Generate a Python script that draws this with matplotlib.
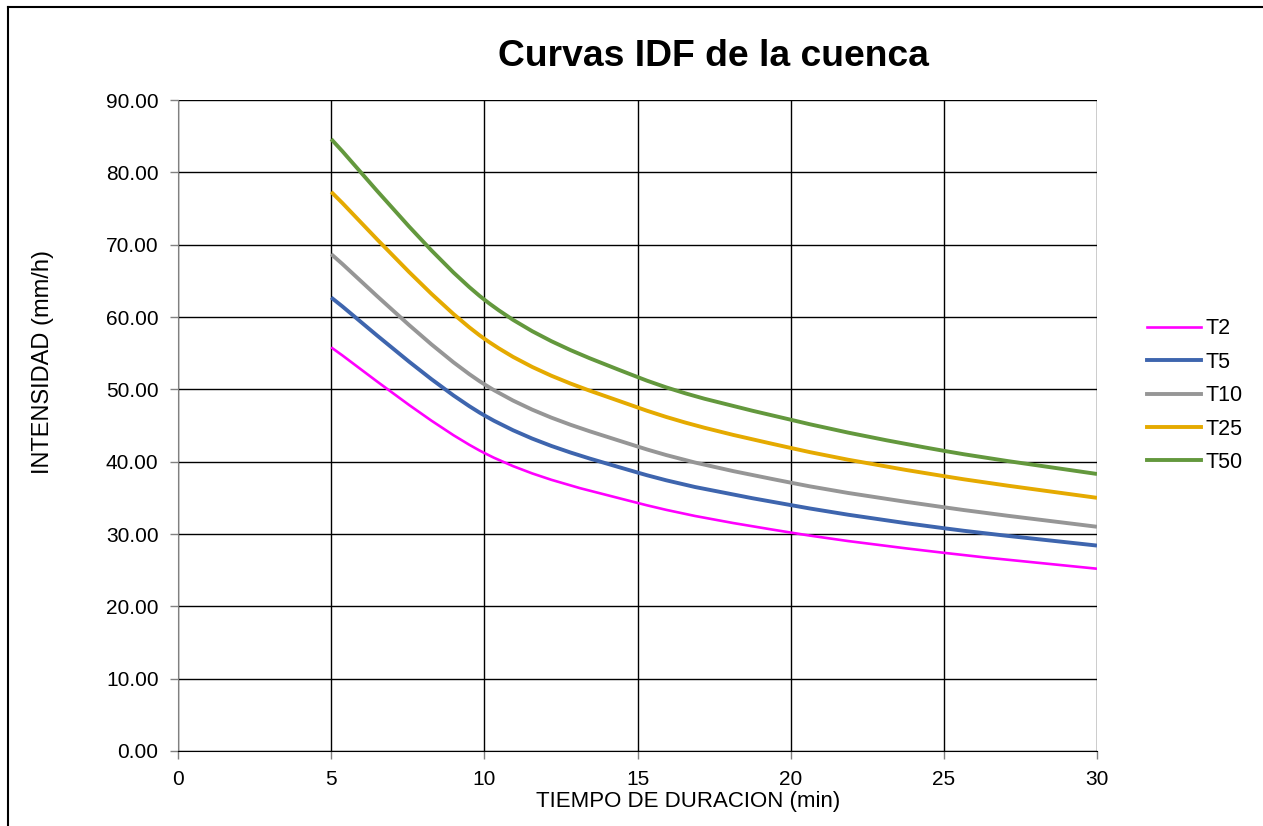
import matplotlib.pyplot as plt
import numpy as np
from matplotlib.lines import Line2D
from matplotlib.path import Path
from matplotlib.patches import PathPatch

plt.rcParams["font.family"] = ["Liberation Sans", "DejaVu Sans"]

durations = [5, 10, 15, 20, 25, 30]
t2 = [55.8, 41.2, 34.3, 30.2, 27.4, 25.2]
t5 = [62.7, 46.4, 38.5, 34.0, 30.8, 28.4]
t10 = [68.7, 50.7, 42.1, 37.1, 33.7, 31.0]
t25 = [77.3, 57.0, 47.5, 41.9, 38.0, 35.0]
t50 = [84.6, 62.4, 51.7, 45.8, 41.5, 38.3]
series_names = ["T2", "T5", "T10", "T25", "T50"]
colors = ["#FF00FF", "#3E65AE", "#969696", "#E5AA00", "#63983D"]
widths = [1.9, 2.8, 2.8, 2.8, 2.8]

W, H = 1263, 826


def smooth_path(x, y):
    """Excel-style smoothed line: cubic Bezier through the points."""
    pts = np.column_stack([x, y]).astype(float)
    n = len(pts)
    ext = np.vstack([pts[0], pts, pts[-1]])
    verts = [pts[0]]
    codes = [Path.MOVETO]
    for i in range(n - 1):
        p_prev, p0, p1, p_next = ext[i], ext[i + 1], ext[i + 2], ext[i + 3]
        c1 = p0 + (p1 - p_prev) / 6.0
        c2 = p1 - (p_next - p0) / 6.0
        verts += [c1, c2, p1]
        codes += [Path.CURVE4] * 3
    return Path(verts, codes)


fig = plt.figure(figsize=(W / 100, H / 100), dpi=100)
ax = fig.add_axes([178 / W, 1 - 751 / H, (1097 - 178) / W, (751 - 100) / H])

for name, vals, c, lw in zip(series_names, [t2, t5, t10, t25, t50], colors, widths):
    patch = PathPatch(smooth_path(durations, vals), facecolor="none", edgecolor=c,
                      lw=lw, capstyle="butt", zorder=3)
    ax.add_patch(patch)
    ax.plot([], [], color=c, lw=lw, label=name)

ax.set_xlim(0, 30)
ax.set_ylim(0, 90)
ax.set_xticks(np.arange(0, 31, 5))
ax.set_yticks(np.arange(0, 91, 10))
ax.set_yticklabels([f"{v:.2f}" for v in np.arange(0, 91, 10)])
ax.grid(True, color="black", lw=1.0, zorder=0)
ax.tick_params(axis="both", labelsize=15, length=6, color="#808080", width=1)
ax.tick_params(axis="y", pad=8)
ax.tick_params(axis="x", pad=8)
for side in ("top", "right"):
    ax.spines[side].set_visible(False)
ax.spines["left"].set_color("#808080")
ax.spines["bottom"].set_color("black")

fig.text(688 / W, 1 - 801 / H, "TIEMPO DE DURACION (min)", ha="center", va="center",
         fontsize=16)
fig.text(43 / W, 1 - 361.5 / H, "INTENSIDAD (mm/h)", ha="center", va="center",
         rotation=90, fontsize=17)
fig.text(713 / W, 1 - 66 / H, "Curvas IDF de la cuenca", ha="center", va="baseline",
         fontsize=26.8, fontweight="bold")

ax.legend(loc="center left", bbox_to_anchor=(1.0336, 0.546), frameon=False,
          fontsize=15.5, handlelength=2.5, handletextpad=0.22, labelspacing=0.58)

# outer chart border
fig.add_artist(Line2D([8 / W, 8 / W], [0, 1 - 7 / H], color="black", lw=1.5,
                      transform=fig.transFigure))
fig.add_artist(Line2D([8 / W, 1], [1 - 7 / H, 1 - 7 / H], color="black", lw=1.5,
                      transform=fig.transFigure))

fig.savefig("out.png", dpi=100, facecolor="white")
